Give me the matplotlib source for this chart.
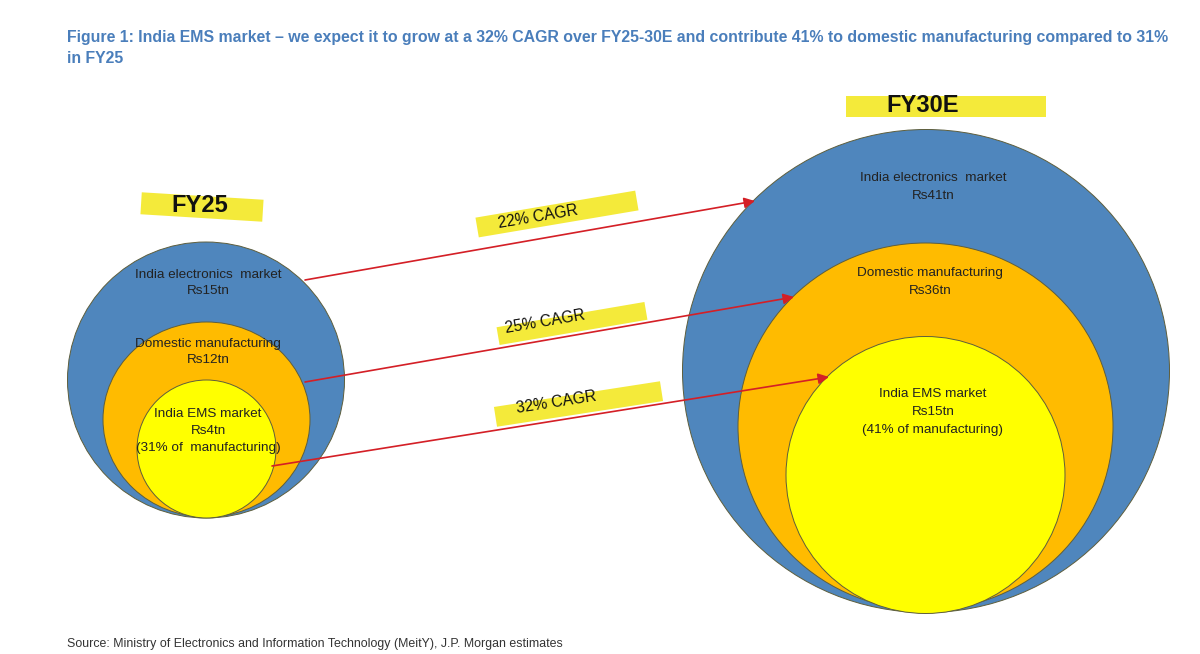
import matplotlib
matplotlib.use('Agg')
import matplotlib.pyplot as plt
from matplotlib.patches import Ellipse, Rectangle

# values (Rs tn) and growth
years = ['FY25', 'FY30E']
layers = ['India electronics  market', 'Domestic manufacturing', 'India EMS market']
fy25_vals = [15, 12, 4]
fy30_vals = [41, 36, 15]
ems_share = [31, 41]
cagr = [22, 25, 32]

title = ('Figure 1: India EMS market \u2013 we expect it to grow at a 32% CAGR over FY25-30E '
         'and contribute 41% to domestic manufacturing compared to 31%\nin FY25')
source = 'Source: Ministry of Electronics and Information Technology (MeitY), J.P. Morgan estimates'

# layout in pixels (x, y, width, height) for each ring, outer to inner
left_rings = [(206, 380, 277, 276), (206.5, 419.5, 207, 195), (206.5, 449, 139, 138)]
right_rings = [(926, 371, 487, 483), (925.5, 426.5, 375, 367), (925.5, 475, 279, 277)]
ring_colors = ['#4f86bd', '#ffbb00', '#ffff00']

left_text = [(208, 283), (208, 352), (208, 431)]
right_text = [(933, 187), (930, 282), (933, 412)]

arrow_starts = [(305, 280), (305, 382), (272, 466)]
arrow_ends = [(755, 201), (794, 297), (829, 377)]
label_boxes = [(557, 214, 162, 20, 9.6), (572, 323.5, 150, 18, 9.7), (578.5, 404, 168, 20, 8.8)]
label_text = [(538, 217), (545, 322), (556, 402)]

hl = '#f4ea3a'
font = ['Liberation Sans', 'DejaVu Sans']

fig = plt.figure(figsize=(12, 6.54), dpi=100)
ax = fig.add_axes([0, 0, 1, 1])
ax.set_xlim(0, 1200)
ax.set_ylim(654, 0)
ax.axis('off')

for rings in (left_rings, right_rings):
    for (cx, cy, w, h), c in zip(rings, ring_colors):
        ax.add_patch(Ellipse((cx, cy), w, h, facecolor=c, edgecolor='#5e5e3c', lw=0.7))

def lab(vals, share, i):
    if i == 2:
        return '%s\nRs%dtn\n(%d%% of  manufacturing)' % (layers[i], vals[i], share)
    return '%s\nRs%dtn' % (layers[i], vals[i])

for i in range(3):
    ax.text(*left_text[i], lab(fy25_vals, ems_share[0], i), ha='center', va='center',
            fontsize=9.7, family=font, color='#222222', linespacing=1.55)
    ax.text(*right_text[i], lab(fy30_vals, ems_share[1], i).replace('  manu', ' manu'),
            ha='center', va='center', fontsize=9.7, family=font, color='#222222',
            linespacing=1.65)

# year labels with highlighter boxes
ax.add_patch(Rectangle((202 - 61, 207 - 11), 122, 22, angle=3.5, rotation_point='center',
                       facecolor=hl, edgecolor='none'))
ax.text(200, 206, years[0], ha='center', va='center', fontsize=17, fontweight='bold',
        family=font, color='#111111')
ax.add_patch(Rectangle((846, 96), 200, 21, facecolor=hl, edgecolor='none'))
ax.text(923, 106, years[1], ha='center', va='center', fontsize=17, fontweight='bold',
        family=font, color='#111111')

# growth arrows
for s, e, (bx, by, bw, bh, ang), (tx, ty), g in zip(arrow_starts, arrow_ends, label_boxes,
                                                    label_text, cagr):
    ax.add_patch(Rectangle((bx - bw / 2, by - bh / 2), bw, bh, angle=-ang,
                           rotation_point='center', facecolor=hl, edgecolor='none'))
    ax.text(tx, ty, '%d%% CAGR' % g, ha='center', va='center', rotation=ang,
            fontsize=11.3, family=font, color='#111111')
    ax.annotate('', xy=e, xytext=s,
                arrowprops=dict(arrowstyle='-|>', color='#d41f26', lw=1.2,
                                mutation_scale=16, shrinkA=0, shrinkB=0))

fig.text(67 / 1200, 1 - 30 / 654, title, ha='left', va='top', fontsize=11.4,
         fontweight='bold', family=font, color='#4a7ebb', linespacing=1.5)
fig.text(67 / 1200, 1 - 644 / 654, source, ha='left', va='center', fontsize=8.9,
         family=font, color='#333333')

fig.savefig('out.png', dpi=100)
